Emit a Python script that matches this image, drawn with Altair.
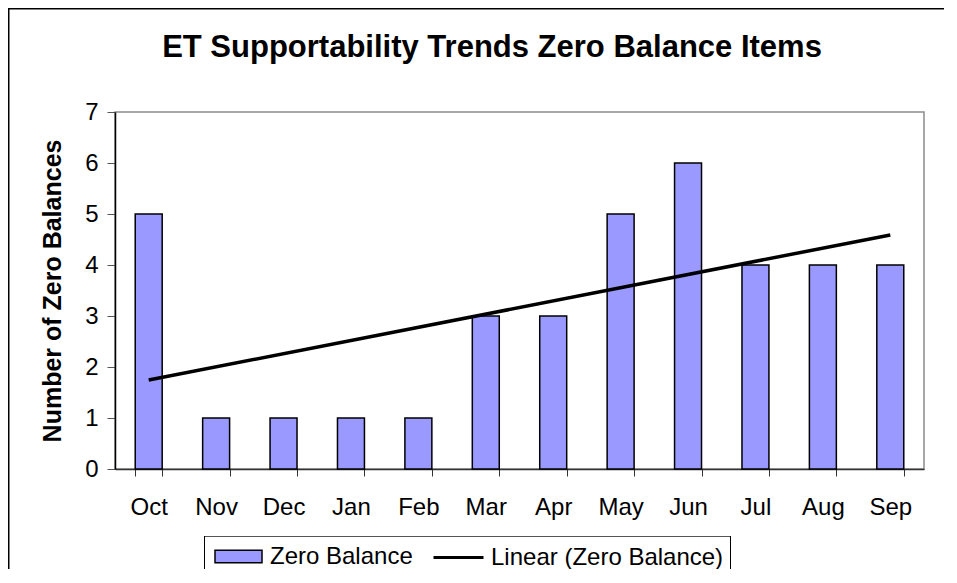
import json
import altair as alt
import pandas as pd

# ---- data ----
months = ["Oct", "Nov", "Dec", "Jan", "Feb", "Mar", "Apr", "May", "Jun", "Jul", "Aug", "Sep"]
zero_balances = [5, 1, 1, 1, 1, 3, 3, 5, 6, 4, 4, 4]
y_ticks = [0, 1, 2, 3, 4, 5, 6, 7]
bar_series = "Zero Balance"
trend_series = "Linear (Zero Balance)"
chart_title = "ET Supportability Trends Zero Balance Items"
y_title = "Number of Zero Balances"

df = pd.DataFrame({"month": months, "idx": list(range(len(months))), "value": zero_balances})
deco = pd.DataFrame({"k": [0]})

FONT = "Liberation Sans"
W, H = 809, 357
PAD = {"left": 107, "top": 104, "right": 25, "bottom": 100}
BOTTOM_EDGE = H + PAD["bottom"]

x_scale = alt.Scale(domain=months, paddingInner=0.6, paddingOuter=0.3)
y_scale = alt.Scale(domain=[0, 7], nice=False)

x_axis = alt.Axis(title=None, labelAngle=0, tickBand="extent", labelFontSize=24, labelFont=FONT,
                  labelColor="black", labelPadding=19, tickSize=7, tickColor="#333",
                  domainColor="#333", domainWidth=1.5, grid=False)
y_axis = alt.Axis(title=y_title, values=y_ticks, format="d", labelFontSize=24, labelFont=FONT,
                  labelColor="black", labelPadding=9, tickSize=8, tickColor="#555",
                  domainColor="black", domainWidth=1.5, grid=False, titleFont=FONT,
                  titleFontSize=25, titleFontWeight="bold", titleColor="black", titlePadding=19)

bars = alt.Chart(df).transform_calculate(
    series_bar=f"'{bar_series}'"
).mark_bar(stroke="black", strokeWidth=1.5).encode(
    x=alt.X("month:N", scale=x_scale, axis=x_axis, sort=months),
    y=alt.Y("value:Q", scale=y_scale, axis=y_axis),
    fill=alt.Fill("series_bar:N", scale=alt.Scale(domain=[bar_series], range=["#9999FF"]),
                  legend=alt.Legend(title=None, orient="none", legendX=99, legendY=420,
                                    symbolType="M-1,-0.27L1,-0.27L1,0.27L-1,0.27Z",
                                    symbolSize=2209, symbolStrokeColor="black",
                                    symbolStrokeWidth=1.5, labelFontSize=24, labelFont=FONT,
                                    labelColor="black", labelOffset=7, labelLimit=0, padding=0)),
)

trend = alt.Chart(df).transform_regression(
    "idx", "value", method="linear"
).transform_calculate(
    month=f"{json.dumps(months)}[round(datum.idx)]",
    series_line=f"'{trend_series}'",
).mark_line(strokeWidth=3.5).encode(
    x=alt.X("month:N", scale=x_scale, sort=months),
    y=alt.Y("value:Q", scale=y_scale),
    stroke=alt.Stroke("series_line:N", scale=alt.Scale(domain=[trend_series], range=["black"]),
                      legend=alt.Legend(title=None, orient="none", legendX=317, legendY=419,
                                        symbolType="stroke", symbolSize=2500,
                                        symbolStrokeWidth=3, labelFontSize=24, labelFont=FONT,
                                        labelColor="black", labelOffset=6, labelLimit=0,
                                        padding=0)),
)


def thin_rect(x, x2, y, y2, color="black"):
    return alt.Chart(deco).mark_rect(fill=color, strokeWidth=0).encode(
        x=alt.value(x), x2=alt.value(x2), y=alt.value(y), y2=alt.value(y2)
    )


# legend frame (open at the bottom, as in the cropped reference)
legend_top = thin_rect(89, 616, 424, 425, "#555")
legend_left = thin_rect(89, 90, 424, BOTTOM_EDGE)
legend_right = thin_rect(615, 616, 424, BOTTOM_EDGE)
# outer chart frame (top and left edges visible)
frame_top = thin_rect(-107, W + 20, -104, -102.5)
frame_left = thin_rect(-107, -105.5, -104, BOTTOM_EDGE)

chart = alt.layer(frame_top, frame_left, legend_top, legend_left, legend_right, bars, trend).resolve_legend(
    fill="independent", stroke="independent"
).properties(
    width=W, height=H,
    title=alt.TitleParams(chart_title, font=FONT, fontSize=31, fontWeight="bold", color="black",
                          anchor="middle", dx=-27.5, offset=0, dy=56),
    padding=PAD,
    autosize=alt.AutoSizeParams(type="none"),
    background="white",
).configure_view(stroke="#8c8c8c", strokeWidth=1.5)

chart.save("out.html", embed_options={"renderer": "svg", "actions": False})
